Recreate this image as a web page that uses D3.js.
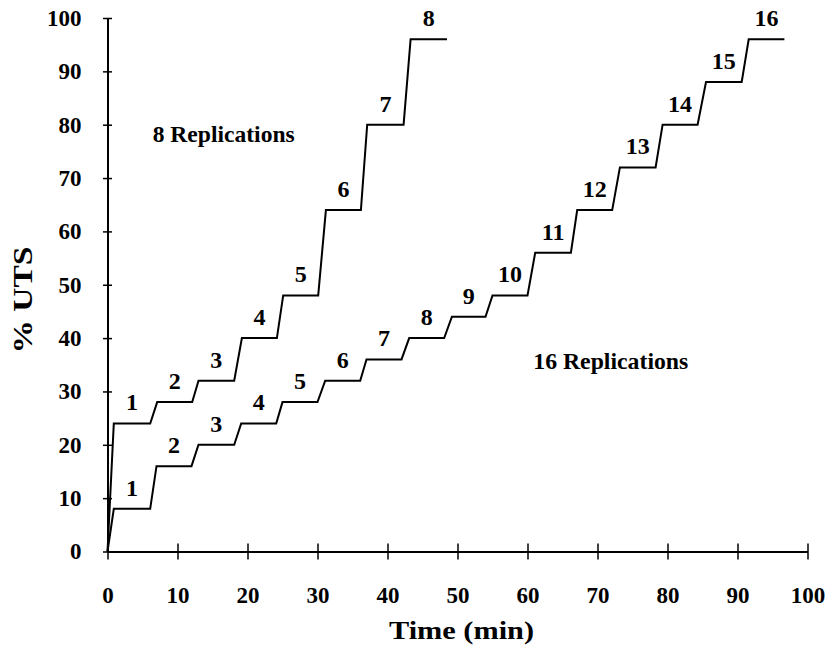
<!DOCTYPE html>
<html>
<head>
<meta charset="utf-8">
<script src="https://cdn.jsdelivr.net/npm/d3@7"></script>
<style>
  html, body { margin: 0; padding: 0; background: #fff; }
  svg { display: block; }
  text { font-family: "Liberation Serif", "Times New Roman", serif; font-weight: bold; fill: #000; }
</style>
</head>
<body>
<svg id="chart" width="836" height="656"></svg>
<script>
// ---- data ----
const xTicks = [0, 10, 20, 30, 40, 50, 60, 70, 80, 90, 100];
const yTicks = [0, 10, 20, 30, 40, 50, 60, 70, 80, 90, 100];

// 8 replications: time (min) and % UTS at each corner of the step curve
const rep8Time  = [0, 0.9, 6.1, 7.1, 12.1, 13.0, 18.1, 19.2, 24.2, 25.1, 30.1, 31.2, 36.2, 37.1, 42.3, 43.3, 48.5];
const rep8Value = [0, 24, 24, 28, 28, 32, 32, 40, 40, 48, 48, 64, 64, 80, 80, 96, 96];
const rep8Labels = ["1", "2", "3", "4", "5", "6", "7", "8"];

// 16 replications
const rep16Time  = [0, 0.9, 6.1, 7.0, 12.0, 13.0, 18.1, 19.1, 24.1, 25.0, 30.0, 31.1, 36.1, 37.0, 42.0, 43.1, 48.1,
                    49.2, 54.0, 55.0, 60.0, 61.1, 66.2, 67.1, 72.1, 73.2, 78.3, 79.3, 84.3, 85.5, 90.6, 91.6, 96.7];
const rep16Value = [0, 8, 8, 16, 16, 20, 20, 24, 24, 28, 28, 32, 32, 36, 36, 40, 40,
                    44, 44, 48, 48, 56, 56, 64, 64, 72, 72, 80, 80, 88, 88, 96, 96];
const rep16Labels = ["1", "2", "3", "4", "5", "6", "7", "8", "9", "10", "11", "12", "13", "14", "15", "16"];

const seriesNames = ["8 Replications", "16 Replications"];
const xTitle = "Time (min)";
const yTitle = "% UTS";

// ---- drawing ----
const svg = d3.select("#chart");
svg.append("rect").attr("width", 836).attr("height", 656).attr("fill", "#fff");

const x = d3.scaleLinear().domain([0, 100]).range([107.5, 807.5]);
const y = d3.scaleLinear().domain([0, 100]).range([551.5, 18]);

const serif = "'Liberation Serif', 'Times New Roman', serif";

// x axis
const gx = svg.append("g").attr("transform", `translate(0,${y(0)})`)
  .call(d3.axisBottom(x).tickValues(xTicks).tickFormat(d3.format("d")).tickSizeOuter(0).tickSize(0));
gx.select(".domain").attr("stroke", "#000").attr("stroke-width", 2);
gx.selectAll(".tick line").attr("y1", -8).attr("y2", 8).attr("stroke", "#000").attr("stroke-width", 1.5);
gx.selectAll(".tick text").attr("y", 51.5).attr("dy", 0)
  .style("font-size", "23px").style("font-family", serif).style("font-weight", "bold");

// y axis
const gy = svg.append("g").attr("transform", `translate(${x(0)},0)`)
  .call(d3.axisLeft(y).tickValues(yTicks).tickFormat(d3.format("d")).tickSizeOuter(0).tickSize(0));
gy.select(".domain").attr("stroke", "#000").attr("stroke-width", 2);
gy.selectAll(".tick line").attr("x1", -4.5).attr("x2", 4.5).attr("stroke", "#000").attr("stroke-width", 1.5);
gy.selectAll(".tick text").attr("x", -26).attr("dy", "0.32em")
  .style("font-size", "23px").style("font-family", serif).style("font-weight", "bold");

// step curves
const line = d3.line().x(d => x(d[0])).y(d => y(d[1]));
function drawSeries(times, values, labels) {
  const pts = times.map((t, i) => [t, values[i]]);
  svg.append("path").datum(pts).attr("d", line)
    .attr("fill", "none").attr("stroke", "#000").attr("stroke-width", 2).attr("stroke-linejoin", "miter");
  const plateaus = labels.map((lab, i) => ({
    lab, t: (times[2 * i + 1] + times[2 * i + 2]) / 2, v: values[2 * i + 1]
  }));
  svg.append("g").selectAll("text").data(plateaus).join("text")
    .attr("x", d => x(d.t)).attr("y", d => y(d.v) - 13)
    .attr("text-anchor", "middle").style("font-size", "24px")
    .text(d => d.lab);
}
drawSeries(rep8Time, rep8Value, rep8Labels);
drawSeries(rep16Time, rep16Value, rep16Labels);

// series annotations
svg.append("text").attr("x", 152.7).attr("y", 141.7).style("font-size", "23px")
  .attr("textLength", 142).attr("lengthAdjust", "spacingAndGlyphs").text(seriesNames[0]);
svg.append("text").attr("x", 533.3).attr("y", 369.3).style("font-size", "23px")
  .attr("textLength", 155).attr("lengthAdjust", "spacingAndGlyphs").text(seriesNames[1]);

// axis titles
svg.append("text").attr("x", 461.5).attr("y", 639).attr("text-anchor", "middle")
  .style("font-size", "26px").attr("textLength", 145).attr("lengthAdjust", "spacingAndGlyphs").text(xTitle);
svg.append("text").attr("transform", "translate(32,300) rotate(-90)").attr("text-anchor", "middle")
  .style("font-size", "27px").attr("textLength", 107).attr("lengthAdjust", "spacingAndGlyphs").text(yTitle);
</script>
</body>
</html>
